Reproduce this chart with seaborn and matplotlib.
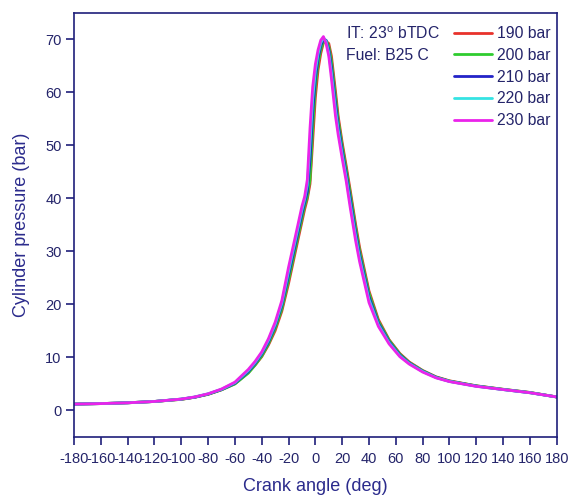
import matplotlib
matplotlib.use("Agg")
import matplotlib.pyplot as plt
import seaborn as sns
import pandas as pd

# ---- data ----
angles = [-180, -160, -140, -120, -100, -90, -80, -70, -60, -50, -45, -40, -35, -30, -25, -20,
          -15, -10, -8, -6, -4, -2, 0, 2, 4, 6, 8, 10, 12, 15, 17, 20, 23, 26, 30, 33, 40, 47,
          55, 63, 70, 80, 90, 100, 120, 140, 160, 180]

p190 = [1.15, 1.25, 1.4, 1.65, 2.05, 2.45, 3.0, 3.85, 5.0, 7.1, 8.5, 10.1, 12.3, 15.0, 18.7, 23.9,
        29.8, 35.6, 37.9, 39.85, 42.7, 50.8, 59.05, 64.2, 67.3, 69.35, 69.6, 69.2, 66.8, 60.2, 55.5, 50.5,
        46.1, 41.5, 35.1, 30.7, 22.5, 17.1, 13.3, 10.7, 9.1, 7.5, 6.3, 5.55, 4.6, 3.95, 3.35, 2.5]
p200 = [1.15, 1.25, 1.4, 1.65, 2.05, 2.45, 3.0, 3.85, 4.95, 7.0, 8.5, 10.2, 12.5, 15.4, 19.1, 24.5,
        30.4, 36.2, 38.5, 40.3, 43.5, 53.2, 61.0, 65.3, 68.0, 69.5, 69.7, 68.7, 65.9, 59.2, 54.8, 49.9,
        45.5, 40.9, 34.5, 30.1, 22.1, 16.8, 13.2, 10.6, 9.0, 7.45, 6.25, 5.5, 4.6, 3.95, 3.35, 2.5]
p210 = [1.15, 1.25, 1.4, 1.65, 2.1, 2.45, 3.05, 3.9, 5.1, 7.3, 8.8, 10.6, 12.9, 15.9, 19.8, 25.5,
        31.3, 37.1, 39.2, 41.3, 47.4, 56.3, 62.7, 66.4, 68.8, 70.0, 69.8, 68.0, 64.65, 57.8, 53.75, 49.0,
        44.6, 39.9, 33.55, 29.3, 21.4, 16.4, 12.9, 10.4, 8.9, 7.35, 6.2, 5.45, 4.55, 3.9, 3.3, 2.5]
p220 = [1.15, 1.25, 1.4, 1.65, 2.1, 2.5, 3.1, 3.95, 5.2, 7.5, 9.0, 10.8, 13.2, 16.2, 20.2, 26.2,
        32.0, 37.8, 39.8, 42.5, 50.3, 58.7, 64.0, 67.2, 69.3, 70.3, 69.6, 67.4, 63.6, 56.7, 52.9, 48.25,
        43.9, 39.0, 32.8, 28.7, 20.85, 16.1, 12.7, 10.25, 8.8, 7.3, 6.15, 5.43, 4.52, 3.9, 3.3, 2.5]
p230 = [1.15, 1.25, 1.4, 1.65, 2.1, 2.5, 3.1, 4.0, 5.3, 7.7, 9.2, 11.0, 13.5, 16.6, 20.7, 27.0,
        32.7, 38.5, 40.3, 43.5, 53.2, 61.0, 65.3, 68.0, 69.8, 70.5, 69.2, 66.8, 62.5, 55.5, 52.0, 47.5,
        43.2, 38.2, 32.0, 28.0, 20.3, 15.8, 12.5, 10.1, 8.7, 7.2, 6.1, 5.4, 4.5, 3.9, 3.3, 2.5]

series_labels = ["190 bar", "200 bar", "210 bar", "220 bar", "230 bar"]
series_values = [p190, p200, p210, p220, p230]
series_colors = ["#e8322b", "#2fcc2f", "#2323c8", "#35e3e3", "#ea23ea"]

x_ticks = list(range(-180, 181, 20))
y_ticks = list(range(0, 71, 10))

rows = []
for lab, vals in zip(series_labels, series_values):
    for a, p in zip(angles, vals):
        rows.append({"angle": a, "pressure": p, "series": lab})
df = pd.DataFrame(rows)

# ---- style ----
sns.set_style("ticks")
plt.rcParams["font.family"] = ["Liberation Sans", "DejaVu Sans"]
plt.rcParams["mathtext.fontset"] = "custom"
plt.rcParams["mathtext.rm"] = "Liberation Sans"

spine_c = "#1f1f7a"
tick_c = "#24246a"
label_c = "#2b2b8c"

fig = plt.figure(figsize=(5.71, 4.97), dpi=100)
ax = fig.add_axes([0.1296, 0.1213, 0.975 - 0.1296, 0.9744 - 0.1213])

sns.lineplot(data=df, x="angle", y="pressure", hue="series", hue_order=series_labels,
             palette=dict(zip(series_labels, series_colors)), linewidth=2.0, ax=ax,
             legend=False, sort=False)

ax.set_xlim(-180, 180)
ax.set_ylim(-5, 75)
ax.set_xticks(x_ticks)
ax.set_yticks(y_ticks)
ax.set_xticklabels([str(t) for t in x_ticks])
ax.tick_params(axis="both", direction="out", length=6, width=1.2, colors=spine_c,
               labelcolor=tick_c, labelsize=10.5, pad=3)
ax.tick_params(axis="x", pad=5)
for s in ax.spines.values():
    s.set_color(spine_c)
    s.set_linewidth(1.2)
    s.set_visible(True)

ax.set_xlabel("Crank angle (deg)", fontsize=13, color=label_c, labelpad=9)
ax.set_ylabel("Cylinder pressure (bar)", fontsize=13, color=label_c, labelpad=11)

handles = [plt.Line2D([], [], color=c, lw=2.0) for c in series_colors]
ax.legend(handles, series_labels, loc="upper right", frameon=False, fontsize=11.3,
          handlelength=2.4, handletextpad=0.3, labelspacing=0.43, borderpad=0.3,
          borderaxespad=0.1, bbox_to_anchor=(1.0, 0.983), labelcolor=tick_c)

ax.text(0.5635, 0.951, r"IT: 23$^{\mathrm{o}}$ bTDC", transform=ax.transAxes,
        fontsize=11.3, color=tick_c, va="center", ha="left")
ax.text(0.5635, 0.899, "Fuel: B25 C", transform=ax.transAxes,
        fontsize=11.3, color=tick_c, va="center", ha="left")

fig.savefig("out.png", dpi=100)
